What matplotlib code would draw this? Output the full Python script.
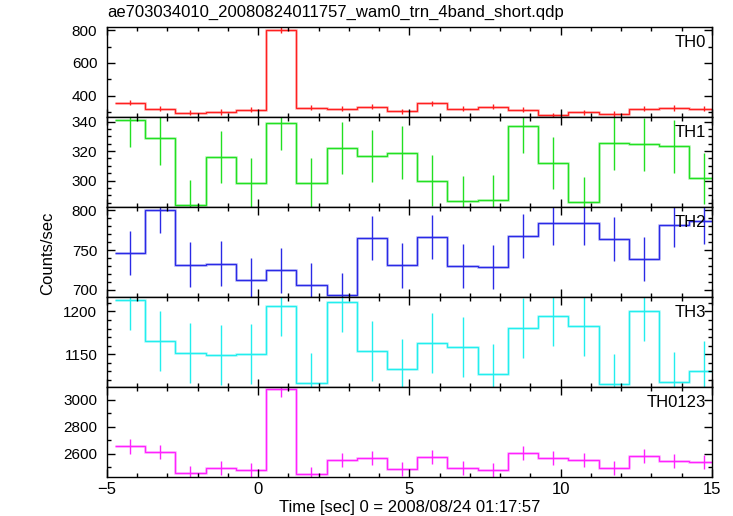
import numpy as np
import matplotlib
matplotlib.use("Agg")
import matplotlib.pyplot as plt
from matplotlib.ticker import MultipleLocator

plt.rcParams['font.family'] = ['Liberation Sans', 'DejaVu Sans']

# time bins (1 s wide), left edge of first bin
t0 = -4.74
nbin = 20

th0 = [357, 320, 296, 300, 314, 802, 327, 320, 333, 304,
       353, 320, 333, 314, 279, 298, 288, 320, 326, 320]
th0_err = [17, 17, 16, 16, 17, 20, 17, 17, 17, 16,
           17, 17, 17, 17, 16, 16, 16, 17, 17, 17]

th1 = [341.1, 328.9, 283.2, 316.1, 298.4, 339.1, 298.4, 322.1, 316.6, 318.9,
       299.8, 286.2, 286.9, 337.3, 312.1, 285.5, 325.5, 324.8, 323.4, 301.6]
th1_err = [18.6, 18.2, 17.0, 17.8, 17.2, 18.6, 17.2, 17.9, 17.8, 17.9,
           17.3, 16.9, 16.9, 18.6, 17.8, 16.9, 18.0, 18.0, 18.0, 17.3]

th2 = [746.2, 800.0, 731.6, 732.9, 712.5, 724.5, 706.2, 693.3, 765.4, 730.8,
       766.2, 730.0, 728.7, 767.9, 784.1, 784.1, 763.7, 738.7, 781.2, 786.2]
th2_err = [28] * 20

th3 = [1213.9, 1165.7, 1151.5, 1149.2, 1150.3, 1206.6, 1116.5, 1211.5, 1154.2, 1132.7,
       1162.7, 1158.4, 1127.3, 1181.2, 1195.0, 1183.5, 1115.4, 1200.4, 1118.0, 1130.7]
th3_err = [35] * 20

th0123 = [2654, 2615, 2460, 2495, 2480, 3078, 2451, 2554, 2566, 2485,
          2578, 2493, 2480, 2603, 2571, 2552, 2493, 2583, 2546, 2539]
th0123_err = [52, 52, 50, 51, 51, 58, 50, 52, 52, 51,
              52, 51, 51, 52, 52, 52, 51, 52, 52, 52]

labels = ["TH0", "TH1", "TH2", "TH3", "TH0123"]
colors = ["#ff2020", "#22e022", "#2a2ae6", "#22eeee", "#ff22ff"]
series = [th0, th1, th2, th3, th0123]
errors = [th0_err, th1_err, th2_err, th3_err, th0123_err]
ylims = [(268, 818), (282, 343), (691, 804), (1112, 1217), (2431, 3094)]
ymajor = [200, 20, 50, 50, 200]
yminor = [100, 5, 10, 10, 100]

edges = t0 + np.arange(nbin + 1)
centers = edges[:-1] + 0.5

fig = plt.figure(figsize=(7.33, 5.16), dpi=100)
gs = fig.add_gridspec(5, 1, left=0.146, right=0.971, top=0.947, bottom=0.0762, hspace=0)
axes = [fig.add_subplot(gs[i]) for i in range(5)]

for i, ax in enumerate(axes):
    c = colors[i]
    ax.stairs(series[i], edges, baseline=None, color=c, lw=2.0, alpha=0.25)
    ax.stairs(series[i], edges, baseline=None, color=c, lw=1.0)
    ax.errorbar(centers, series[i], yerr=errors[i], fmt='none', ecolor=c, elinewidth=1.0, capsize=0)
    ax.set_xlim(-5, 15)
    ax.set_ylim(*ylims[i])
    ax.xaxis.set_major_locator(MultipleLocator(5))
    ax.xaxis.set_minor_locator(MultipleLocator(1))
    ax.yaxis.set_major_locator(MultipleLocator(ymajor[i]))
    ax.yaxis.set_minor_locator(MultipleLocator(yminor[i]))
    ax.tick_params(which='both', direction='in', top=True, right=True, labelsize=11, width=1.0)
    ax.tick_params(which='major', length=6)
    ax.tick_params(which='minor', length=3)
    ax.tick_params(axis='y', pad=7)
    for s in ax.spines.values():
        s.set_linewidth(1.0)
    if i < 4:
        ax.tick_params(labelbottom=False)
    ax.text(0.99, 0.91, labels[i], transform=ax.transAxes, ha='right', va='top', fontsize=12)

axes[-1].tick_params(axis='x', labelsize=12, pad=4)
axes[-1].set_xlabel("Time [sec] 0 = 2008/08/24 01:17:57", fontsize=12, labelpad=2)
fig.text(0.065, 0.51, "Counts/sec", rotation=90, ha='center', va='center', fontsize=12)
fig.text(0.146, 0.975, "ae703034010_20080824011757_wam0_trn_4band_short.qdp",
         ha='left', va='center', fontsize=12)

fig.savefig("out.png", dpi=100)
